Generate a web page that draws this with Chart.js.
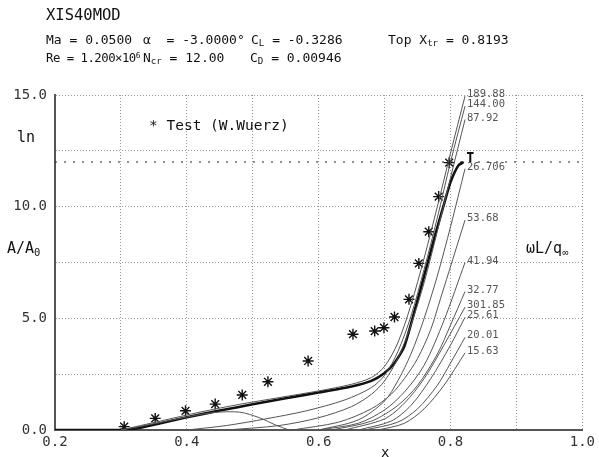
<!DOCTYPE html>
<html>
<head>
<meta charset="utf-8">
<script src="https://cdn.jsdelivr.net/npm/chart.js@4.4.1/dist/chart.umd.min.js"></script>
<style>
  body { margin: 0; background: #fff; }
  #wrap { position: relative; width: 599px; height: 457px; overflow: hidden; font-family: "DejaVu Sans Mono", monospace; color: #111; }
  canvas { position: absolute; left: 0; top: 0; }
  .t { position: absolute; white-space: pre; line-height: 1; }
  sub { font-size: 70%; vertical-align: -0.25em; line-height: 0; }
  sup { font-size: 65%; vertical-align: 0.5em; line-height: 0; }
</style>
</head>
<body>
<div id="wrap">
  <canvas id="chart" width="599" height="457"></canvas>
  <div class="t" style="left:46px;top:8px;font-size:15.5px">XIS40MOD</div>
  <div class="t" style="left:46px;top:33px;font-size:13px">Ma = 0.0500</div>
  <div class="t" style="left:143px;top:33px;font-size:13px">α  = -3.0000°</div>
  <div class="t" style="left:251px;top:33px;font-size:13px">C<sub>L</sub> = -0.3286</div>
  <div class="t" style="left:388px;top:33px;font-size:13px">Top X<sub>tr</sub> = 0.8193</div>
  <div class="t" style="left:46px;top:52px;font-size:12.3px;letter-spacing:-0.5px">Re = 1.200×10<sup>6</sup></div>
  <div class="t" style="left:143px;top:51px;font-size:13px">N<sub>cr</sub> = 12.00</div>
  <div class="t" style="left:250px;top:51px;font-size:13px">C<sub>D</sub> = 0.00946</div>
  <div class="t" style="left:149px;top:118px;font-size:14.5px">* Test (W.Wuerz)</div>
  <div class="t" style="left:17px;top:130px;font-size:15px">ln</div>
  <div class="t" style="left:7px;top:241px;font-size:15px">A/A<sub>0</sub></div>
  <div class="t" style="left:526px;top:241px;font-size:15px">ωL/q<sub>∞</sub></div>
  <div class="t" style="left:381px;top:445px;font-size:14px">x</div>
</div>
<script>
// Ncr = 12 (ln A/A0 transition level)
const ncr = 12.0;
const ncrX = [0.2, 1.0];

// 실험값 (W.Wuerz)
const testX = [0.305, 0.352, 0.398, 0.443, 0.484, 0.523, 0.584, 0.652, 0.685, 0.699, 0.715, 0.737, 0.752, 0.767, 0.782, 0.798];
const testN = [0.15, 0.52, 0.86, 1.16, 1.57, 2.16, 3.09, 4.29, 4.43, 4.58, 5.06, 5.85, 7.46, 8.88, 10.45, 11.97];

// envelope (thick line)
const envX = [0.2, 0.3, 0.33, 0.36, 0.4, 0.45, 0.5, 0.55, 0.6, 0.65, 0.68, 0.7, 0.715, 0.73, 0.748, 0.76, 0.776, 0.79, 0.8, 0.812, 0.82];
const envN = [0, 0, 0.1, 0.3, 0.57, 0.87, 1.15, 1.42, 1.68, 1.95, 2.2, 2.55, 3.0, 3.75, 5.6, 6.9, 8.66, 10.1, 11.1, 11.85, 12.0];

// transition mark
const trX = [0.825, 0.835, 0.83, 0.83];
const trN = [12.4, 12.4, 12.4, 12.0];

// frequency curves wL/q
const freqLabels = ["189.88", "144.00", "87.92", "26.706", "53.68", "41.94", "32.77", "301.85", "25.61", "20.01", "15.63", ""];
const freqX = [
  [0.30, 0.36, 0.42, 0.48, 0.54, 0.60, 0.65, 0.68, 0.70, 0.72, 0.74, 0.76, 0.78, 0.80, 0.822],
  [0.40, 0.46, 0.52, 0.58, 0.64, 0.68, 0.70, 0.72, 0.74, 0.76, 0.78, 0.80, 0.822],
  [0.46, 0.54, 0.60, 0.65, 0.68, 0.70, 0.72, 0.74, 0.76, 0.78, 0.80, 0.822],
  [0.60, 0.66, 0.70, 0.72, 0.74, 0.76, 0.78, 0.80, 0.822],
  [0.56, 0.63, 0.68, 0.71, 0.73, 0.75, 0.77, 0.785, 0.822],
  [0.60, 0.66, 0.70, 0.73, 0.76, 0.79, 0.822],
  [0.62, 0.68, 0.72, 0.75, 0.78, 0.80, 0.822],
  [0.64, 0.70, 0.73, 0.76, 0.79, 0.822],
  [0.66, 0.71, 0.74, 0.77, 0.80, 0.822],
  [0.67, 0.72, 0.75, 0.78, 0.80, 0.822],
  [0.69, 0.73, 0.76, 0.79, 0.822],
  [0.30, 0.35, 0.40, 0.44, 0.48, 0.51, 0.535, 0.555]
];
const freqN = [
  [0, 0.4, 0.8, 1.15, 1.45, 1.75, 2.05, 2.35, 2.85, 3.9, 5.6, 7.7, 10.0, 12.4, 14.95],
  [0, 0.2, 0.5, 0.85, 1.35, 1.9, 2.45, 3.5, 5.1, 7.2, 9.5, 12.0, 14.5],
  [0, 0.2, 0.55, 1.05, 1.6, 2.2, 3.2, 4.7, 6.6, 8.9, 11.3, 13.9],
  [0, 0.45, 1.3, 2.2, 3.4, 5.0, 6.9, 9.1, 11.7],
  [0, 0.35, 0.95, 1.6, 2.3, 3.2, 4.5, 5.9, 9.4],
  [0, 0.3, 0.9, 1.7, 2.9, 4.9, 7.5],
  [0, 0.4, 1.1, 2.0, 3.4, 4.7, 6.2],
  [0, 0.5, 1.2, 2.3, 3.8, 5.5],
  [0, 0.4, 1.1, 2.3, 3.8, 5.05],
  [0, 0.35, 0.95, 2.0, 3.0, 4.15],
  [0, 0.3, 0.95, 2.0, 3.45],
  [0, 0.28, 0.58, 0.78, 0.8, 0.55, 0.22, 0]
];

function pts(xs, ys) {
  return xs.map((x, k) => ({ x: x, y: ys[k] }));
}

const datasets = [];
freqX.forEach((xs, k) => {
  datasets.push({
    label: freqLabels[k],
    data: pts(xs, freqN[k]),
    showLine: true,
    borderColor: "#555",
    borderWidth: 1,
    pointRadius: 0,
    tension: 0.3,
    freq: true,
  });
});
datasets.push({
  label: "envelope",
  data: pts(envX, envN),
  showLine: true,
  borderColor: "#111",
  borderWidth: 2.6,
  pointRadius: 0,
  tension: 0.2,
});
datasets.push({
  label: "tr",
  data: pts(trX, trN),
  showLine: true,
  borderColor: "#111",
  borderWidth: 2,
  pointRadius: 0,
});
datasets.push({
  label: "Ncr",
  data: ncrX.map((x) => ({ x: x, y: ncr })),
  showLine: true,
  borderColor: "#222",
  borderWidth: 1.2,
  borderDash: [2, 7],
  pointRadius: 0,
});
datasets.push({
  label: "Test (W.Wuerz)",
  data: pts(testX, testN),
  showLine: false,
  pointStyle: "star",
  pointRadius: 5.5,
  borderColor: "#111",
  borderWidth: 1.4,
});

// 곡선 끝에 주파수 라벨
const freqLabelPlugin = {
  id: "freqLabels",
  afterDatasetsDraw(chart) {
    const ctx = chart.ctx;
    ctx.save();
    ctx.font = "10.5px 'DejaVu Sans Mono'";
    ctx.fillStyle = "#555";
    ctx.textBaseline = "alphabetic";
    chart.data.datasets.forEach((ds, k) => {
      if (!ds.freq || !ds.label) return;
      const meta = chart.getDatasetMeta(k);
      const last = meta.data[meta.data.length - 1];
      ctx.fillText(ds.label, last.x + 2, last.y + 1);
    });
    ctx.restore();
  },
};

const tickFont = { family: "'DejaVu Sans Mono'", size: 14 };

new Chart(document.getElementById("chart"), {
  type: "scatter",
  data: { datasets: datasets },
  options: {
    responsive: false,
    animation: false,
    layout: { padding: { top: 95, right: 14, left: 0, bottom: 0 } },
    plugins: { legend: { display: false }, tooltip: { enabled: false } },
    scales: {
      x: {
        type: "linear",
        min: 0.2,
        max: 1.0,
        ticks: {
          stepSize: 0.1,
          color: "#333",
          font: tickFont,
          padding: 4,
          maxRotation: 0,
          autoSkip: false,
          callback: (v) => (Math.round(v * 10) % 2 === 0 ? v.toFixed(1) : ""),
        },
        grid: { color: "#999", lineWidth: 1, drawTicks: false },
        border: { color: "#555", width: 2, dash: [1, 2] },
        afterFit: (s) => { s.height = 27; },
      },
      y: {
        type: "linear",
        min: 0,
        max: 15,
        ticks: {
          stepSize: 2.5,
          color: "#333",
          font: tickFont,
          padding: 8,
          autoSkip: false,
          callback: (v) => (Math.round(v * 10) % 50 === 0 ? v.toFixed(1) : ""),
        },
        grid: { color: "#999", lineWidth: 1, drawTicks: false },
        border: { color: "#555", width: 2, dash: [1, 2] },
        afterFit: (s) => { s.width = 55; },
      },
    },
  },
  plugins: [freqLabelPlugin],
});
</script>
</body>
</html>
